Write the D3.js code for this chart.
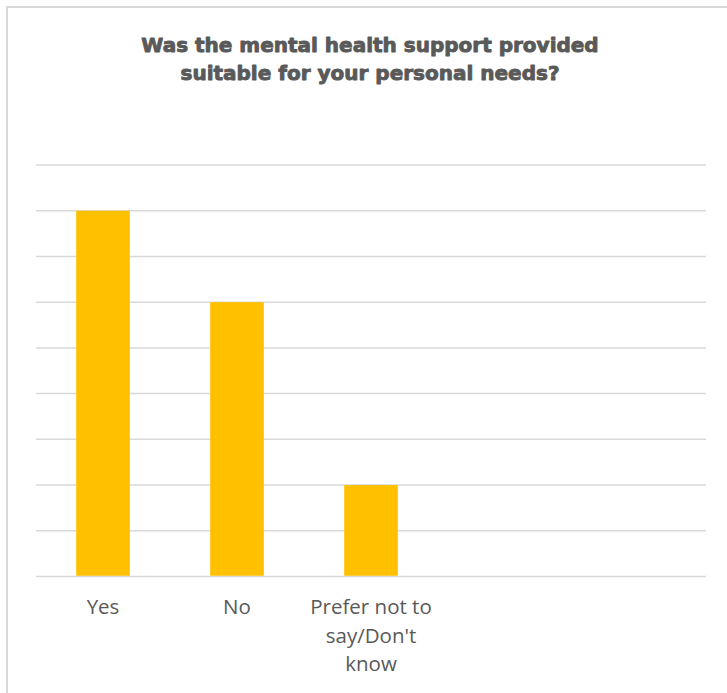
<!DOCTYPE html>
<html>
<head>
<meta charset="utf-8">
<script src="https://cdn.jsdelivr.net/npm/d3@7"></script>
<style>
  html, body { margin: 0; padding: 0; background: #fff; }
  svg { display: block; }
</style>
</head>
<body>
<svg id="chart" width="727" height="693"></svg>
<script>
// Survey responses
const categories = ["Yes", "No", "Prefer not to say/Don't know", "", " "];
const counts = [8, 6, 2, null, null];
const yTicks = [0, 1, 2, 3, 4, 5, 6, 7, 8, 9];
const titleLines = ["Was the mental health support provided", "suitable for your personal needs?"];

const W = 727, H = 693;
const svg = d3.select("#chart");

// Chart frame (extends past the right and bottom edges)
svg.append("rect")
  .attr("x", 7).attr("y", 7)
  .attr("width", W + 20).attr("height", H + 20)
  .attr("fill", "#fff")
  .attr("stroke", "#d9d9d9").attr("stroke-width", 2);

const plot = { left: 36, right: 706, top: 165, bottom: 576.5 };

const x = d3.scaleBand()
  .domain(categories)
  .range([plot.left, plot.right])
  .paddingInner(0.6).paddingOuter(0.3);

const y = d3.scaleLinear()
  .domain([0, 9])
  .range([plot.bottom, plot.top]);

// Gridlines
svg.append("g")
  .selectAll("line")
  .data(yTicks)
  .join("line")
  .attr("x1", plot.left).attr("x2", plot.right)
  .attr("y1", d => y(d)).attr("y2", d => y(d))
  .attr("stroke", "#d9d9d9").attr("stroke-width", 1.5);

// Bars
const data = categories.map((c, i) => ({ c, v: counts[i] })).filter(d => d.v != null);
svg.append("g")
  .selectAll("rect")
  .data(data)
  .join("rect")
  .attr("x", d => x(d.c))
  .attr("width", x.bandwidth())
  .attr("y", d => y(d.v))
  .attr("height", d => y(0) - y(d.v) - 0.75)
  .attr("fill", "#ffc000");

// Category axis labels (wrapped)
const labelLines = {
  "Yes": ["Yes"],
  "No": ["No"],
  "Prefer not to say/Don't know": ["Prefer not to", "say/Don't", "know"]
};
const xAxis = svg.append("g");
categories.forEach(c => {
  const lines = labelLines[c];
  if (!lines) return;
  const t = xAxis.append("text")
    .attr("text-anchor", "middle")
    .attr("font-family", "'Open Sans', sans-serif")
    .attr("font-size", 20.5)
    .attr("fill", "#595959");
  lines.forEach((ln, i) => {
    t.append("tspan")
      .attr("x", x(c) + x.bandwidth() / 2)
      .attr("y", 614 + i * 28.5)
      .text(ln);
  });
});

// Title (heavy weight approximated with a thin matching stroke)
const title = svg.append("text")
  .attr("text-anchor", "middle")
  .attr("font-family", "'DejaVu Sans', sans-serif")
  .attr("font-weight", "bold")
  .attr("font-size", 20)
  .attr("fill", "#595959")
  .attr("stroke", "#595959")
  .attr("stroke-width", 0.9)
  .attr("stroke-linejoin", "round");
titleLines.forEach((ln, i) => {
  title.append("tspan")
    .attr("x", 370)
    .attr("y", 52 + i * 28)
    .text(ln);
});
</script>
</body>
</html>
